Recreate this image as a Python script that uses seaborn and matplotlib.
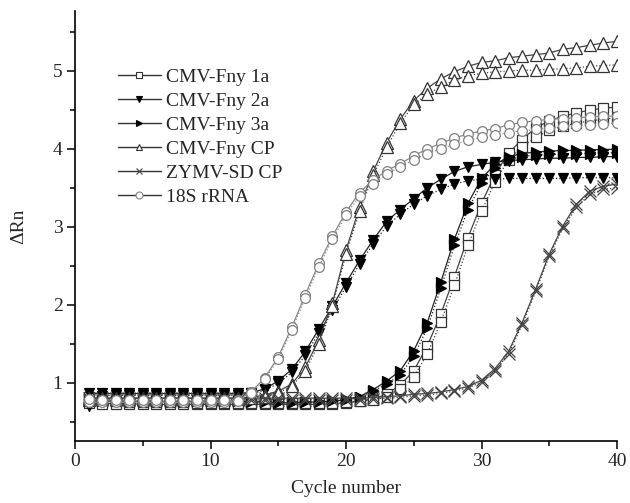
import pandas as pd
import seaborn as sns
import matplotlib.pyplot as plt
from matplotlib.lines import Line2D
from matplotlib.ticker import MultipleLocator

# cycle numbers
cycles = list(range(1, 41))

# delta Rn, two replicate runs per target
fny1a_r1 = [0.74, 0.73, 0.73, 0.73, 0.72, 0.72, 0.72, 0.72, 0.72, 0.72,
            0.72, 0.72, 0.72, 0.72, 0.72, 0.72, 0.72, 0.72, 0.73, 0.74,
            0.76, 0.79, 0.85, 0.97, 1.15, 1.47, 1.88, 2.36, 2.86, 3.30,
            3.67, 3.95, 4.12, 4.27, 4.36, 4.42, 4.46, 4.50, 4.52, 4.54]
fny1a_r2 = [0.82, 0.77, 0.76, 0.75, 0.75, 0.75, 0.75, 0.75, 0.74, 0.74,
            0.74, 0.74, 0.74, 0.74, 0.74, 0.74, 0.74, 0.74, 0.74, 0.75,
            0.76, 0.78, 0.82, 0.92, 1.07, 1.37, 1.78, 2.25, 2.76, 3.20,
            3.58, 3.86, 4.03, 4.15, 4.24, 4.29, 4.33, 4.36, 4.38, 4.40]

fny2a_r1 = [0.86, 0.86, 0.86, 0.86, 0.86, 0.86, 0.86, 0.86, 0.86, 0.86,
            0.86, 0.86, 0.87, 0.92, 1.02, 1.17, 1.40, 1.69, 1.98, 2.28,
            2.57, 2.83, 3.07, 3.22, 3.36, 3.50, 3.61, 3.71, 3.77, 3.80,
            3.83, 3.85, 3.86, 3.87, 3.88, 3.88, 3.89, 3.89, 3.90, 3.90]
fny2a_r2 = [0.70, 0.83, 0.84, 0.84, 0.84, 0.84, 0.84, 0.84, 0.84, 0.84,
            0.84, 0.84, 0.86, 0.90, 0.99, 1.13, 1.35, 1.64, 1.93, 2.23,
            2.52, 2.78, 3.01, 3.16, 3.29, 3.40, 3.48, 3.55, 3.59, 3.61,
            3.61, 3.62, 3.62, 3.62, 3.62, 3.62, 3.63, 3.63, 3.63, 3.63]

fny3a_r1 = [0.76, 0.76, 0.76, 0.76, 0.76, 0.76, 0.76, 0.76, 0.76, 0.76,
            0.76, 0.76, 0.75, 0.75, 0.74, 0.74, 0.75, 0.75, 0.76, 0.78,
            0.82, 0.91, 1.02, 1.15, 1.41, 1.77, 2.29, 2.84, 3.30, 3.62,
            3.80, 3.90, 3.94, 3.96, 3.97, 3.98, 3.98, 3.99, 3.99, 4.00]
fny3a_r2 = [0.78, 0.77, 0.77, 0.77, 0.77, 0.77, 0.77, 0.77, 0.77, 0.77,
            0.77, 0.77, 0.76, 0.76, 0.75, 0.75, 0.75, 0.76, 0.77, 0.79,
            0.82, 0.89, 0.98, 1.10, 1.34, 1.70, 2.21, 2.76, 3.22, 3.56,
            3.75, 3.86, 3.90, 3.92, 3.93, 3.93, 3.94, 3.94, 3.95, 3.95]

fnycp_r1 = [0.80, 0.80, 0.80, 0.80, 0.80, 0.80, 0.80, 0.80, 0.80, 0.80,
            0.80, 0.80, 0.81, 0.84, 0.89, 0.98, 1.20, 1.55, 2.02, 2.70,
            3.25, 3.71, 4.08, 4.38, 4.62, 4.78, 4.90, 4.99, 5.06, 5.11,
            5.13, 5.17, 5.19, 5.21, 5.23, 5.28, 5.30, 5.33, 5.36, 5.38]
fnycp_r2 = [0.78, 0.79, 0.79, 0.79, 0.79, 0.79, 0.79, 0.79, 0.79, 0.79,
            0.79, 0.79, 0.80, 0.82, 0.87, 0.95, 1.15, 1.50, 1.98, 2.65,
            3.20, 3.66, 4.02, 4.33, 4.57, 4.70, 4.80, 4.88, 4.94, 4.97,
            4.99, 5.00, 5.01, 5.01, 5.02, 5.03, 5.04, 5.06, 5.07, 5.08]

zymv_r1 = [0.80, 0.80, 0.80, 0.80, 0.80, 0.80, 0.80, 0.80, 0.80, 0.80,
           0.80, 0.80, 0.80, 0.80, 0.80, 0.80, 0.80, 0.80, 0.80, 0.80,
           0.80, 0.81, 0.82, 0.83, 0.85, 0.86, 0.88, 0.91, 0.95, 1.03,
           1.18, 1.40, 1.77, 2.20, 2.65, 3.01, 3.29, 3.46, 3.52, 3.55]
zymv_r2 = [0.78, 0.78, 0.78, 0.78, 0.78, 0.78, 0.78, 0.78, 0.78, 0.78,
           0.78, 0.78, 0.78, 0.78, 0.78, 0.78, 0.78, 0.78, 0.78, 0.78,
           0.78, 0.79, 0.80, 0.81, 0.83, 0.84, 0.86, 0.89, 0.93, 1.01,
           1.15, 1.37, 1.74, 2.17, 2.62, 2.98, 3.25, 3.42, 3.48, 3.50]

rrna_r1 = [0.75, 0.75, 0.75, 0.75, 0.75, 0.75, 0.75, 0.75, 0.75, 0.75,
           0.75, 0.77, 0.88, 1.06, 1.33, 1.71, 2.13, 2.53, 2.88, 3.19,
           3.44, 3.60, 3.72, 3.81, 3.91, 4.00, 4.07, 4.14, 4.19, 4.23,
           4.26, 4.31, 4.34, 4.36, 4.38, 4.39, 4.40, 4.41, 4.42, 4.42]
rrna_r2 = [0.79, 0.77, 0.77, 0.77, 0.77, 0.77, 0.77, 0.77, 0.77, 0.77,
           0.77, 0.76, 0.86, 1.04, 1.30, 1.68, 2.09, 2.49, 2.84, 3.15,
           3.40, 3.55, 3.68, 3.77, 3.86, 3.94, 4.00, 4.06, 4.11, 4.15,
           4.18, 4.21, 4.23, 4.25, 4.27, 4.29, 4.30, 4.31, 4.32, 4.33]

labels = ["CMV-Fny 1a", "CMV-Fny 2a", "CMV-Fny 3a",
          "CMV-Fny CP", "ZYMV-SD CP", "18S rRNA"]
replicates = [
    (fny1a_r1, fny1a_r2),
    (fny2a_r1, fny2a_r2),
    (fny3a_r1, fny3a_r2),
    (fnycp_r1, fnycp_r2),
    (zymv_r1, zymv_r2),
    (rrna_r1, rrna_r2),
]

# long table: one row per cycle / target / replicate
rows = []
for lab, reps in zip(labels, replicates):
    for r, vals in enumerate(reps):
        for c, v in zip(cycles, vals):
            rows.append({"cycle": c, "drn": v, "target": lab, "rep": r})
df = pd.DataFrame(rows)

# marker look for each target
styles = {
    "CMV-Fny 1a": dict(marker="s", mfc="white", mec="#333333", ms=6.5),
    "CMV-Fny 2a": dict(marker="v", mfc="black", mec="black", ms=7.5),
    "CMV-Fny 3a": dict(marker=">", mfc="black", mec="black", ms=7.5),
    "CMV-Fny CP": dict(marker="^", mfc="white", mec="#333333", ms=8),
    "ZYMV-SD CP": dict(marker="x", mfc="#444444", mec="#444444", ms=8),
    "18S rRNA": dict(marker="o", mfc="white", mec="#808080", ms=7),
}
line_colors = {"CMV-Fny 1a": "#444444", "CMV-Fny 2a": "#222222",
               "CMV-Fny 3a": "#222222", "CMV-Fny CP": "#444444",
               "ZYMV-SD CP": "#444444", "18S rRNA": "#8a8a8a"}
rep_ls = ["-", ":"]

sns.set_style("ticks")
plt.rcParams["font.family"] = ["Liberation Serif", "DejaVu Serif"]

fig = plt.figure(figsize=(6.3, 5.03), dpi=100)
ax = fig.add_axes([75 / 630, 62 / 503, 542 / 630, 430 / 503])

for lab in labels:
    st = styles[lab]
    for r in [0, 1]:
        sub = df[(df["target"] == lab) & (df["rep"] == r)]
        sns.lineplot(data=sub, x="cycle", y="drn", ax=ax,
                     color=line_colors[lab], linestyle=rep_ls[r], linewidth=0.9,
                     marker=st["marker"], markerfacecolor=st["mfc"],
                     markeredgecolor=st["mec"], markersize=st["ms"],
                     markeredgewidth=0.9, legend=False)

ax.set_xlim(0, 40)
ax.set_ylim(0.25, 5.77)
ax.xaxis.set_major_locator(MultipleLocator(10))
ax.xaxis.set_minor_locator(MultipleLocator(5))
ax.yaxis.set_major_locator(MultipleLocator(1))
ax.yaxis.set_minor_locator(MultipleLocator(0.5))
ax.tick_params(which="major", direction="out", length=6, width=1.1,
               labelsize=14, pad=3, color="black")
ax.tick_params(which="minor", direction="out", length=3.8, width=1.1,
               color="black")
sns.despine(ax=ax)
for side in ["left", "bottom"]:
    ax.spines[side].set_linewidth(1.2)
    ax.spines[side].set_color("black")

ax.set_xlabel("Cycle number", fontsize=14)
ax.set_ylabel("ΔRn", fontsize=14)
ax.xaxis.set_label_coords(0.5, -0.09)
ax.yaxis.set_label_coords(-0.088, 0.5)

# legend: line - marker - line, no frame
handles = []
for lab in labels:
    st = styles[lab]
    handles.append(Line2D([], [], color="#333333", linewidth=1.0,
                          marker=st["marker"], markerfacecolor=st["mfc"],
                          markeredgecolor=st["mec"], markersize=5,
                          markeredgewidth=0.8))
ax.legend(handles, labels, loc="upper left", frameon=False, fontsize=14,
          bbox_to_anchor=(118 / 630, 1 - 68 / 503),
          bbox_transform=fig.transFigure, borderpad=0, borderaxespad=0,
          handlelength=2.2, handletextpad=0.25, labelspacing=0.33,
          numpoints=1)

fig.savefig("out.png", dpi=100)
